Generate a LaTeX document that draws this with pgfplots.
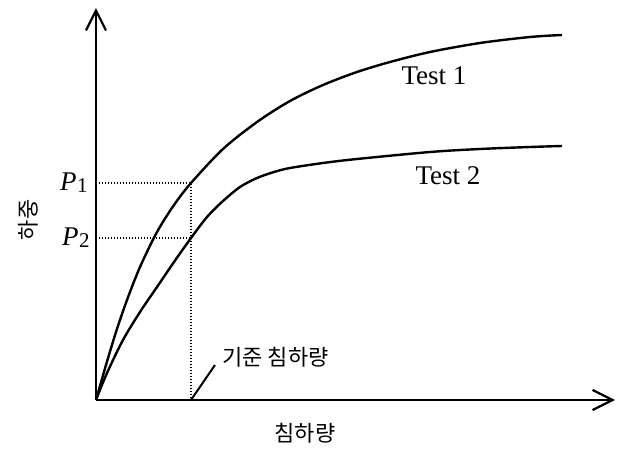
\documentclass[border=0pt]{standalone}
\usepackage{pgfplots}
\pgfplotsset{compat=1.18}
\usepackage{fontspec}
\usetikzlibrary{arrows.meta}
\setmainfont{Liberation Serif}
\newfontfamily\kr{Noto Sans CJK KR}

\newcommand{\Psub}[1]{\textit{P}\kern0.3pt\raisebox{-1pt}{\fontsize{10.5}{12}\selectfont #1}}

\begin{document}
\begin{tikzpicture}
\path[use as bounding box] (0,0) rectangle (310.5pt,225pt);
\begin{axis}[
  at={(48pt,25pt)}, anchor=south west,
  scale only axis, width=259.5pt, height=196pt,
  xmin=0, xmax=519, ymin=0, ymax=392,
  hide axis, clip=false,
]
% axes with open arrow heads
\addplot[line width=1.2pt,-{Straight Barb[length=10pt,width=10pt,line width=1.1pt]}] coordinates {(0,0) (519,0)};
\addplot[line width=1.2pt,-{Straight Barb[length=10pt,width=10pt,line width=1.1pt]}] coordinates {(0,0) (0,392)};

% Test 1
\addplot[line width=1.2pt,smooth] coordinates {
 (0,0) (10,35) (20,68) (31,100) (44,133) (61,168) (78,195) (95,217)
 (127,251) (161,278) (194,299) (227,315) (261,328) (294,338) (334,348)
 (384,357) (434,363) (466,365)};
% Test 2
\addplot[line width=1.2pt,smooth] coordinates {
 (0,0) (11,27) (27,60) (44,88) (61,113) (78,138) (95,162) (111,183)
 (127,199) (144,213) (161,222) (178,228) (194,232) (227,237) (261,241)
 (334,248) (384,251) (434,253) (466,254)};

% reference settlement guides
\addplot[line width=0.7pt,dash pattern=on 0.7pt off 0.8pt] coordinates {(0,217) (95,217) (95,0)};
\addplot[line width=0.7pt,dash pattern=on 0.7pt off 0.8pt] coordinates {(0,162) (95,162)};
\addplot[line width=1pt] coordinates {(95,0) (119,35)};

\node at (axis cs:338,324) {\fontsize{13.5}{15}\selectfont Test 1};
\node at (axis cs:352,224) {\fontsize{13.5}{15}\selectfont Test 2};
\node[anchor=east,inner sep=0pt] at (axis cs:-8,217) {\fontsize{13.5}{15}\selectfont\Psub{1}};
\node[anchor=east,inner sep=0pt] at (axis cs:-6,162) {\fontsize{13.5}{15}\selectfont\Psub{2}};
\node[anchor=west,inner sep=0pt] at (axis cs:126,43) {\kr\fontsize{11}{13}\selectfont 기준 침하량};
\node at (axis cs:209,-33) {\kr\fontsize{11}{13}\selectfont 침하량};
\node[rotate=90] at (axis cs:-68,180) {\kr\fontsize{11}{13}\selectfont 하중};
\end{axis}
\end{tikzpicture}
\end{document}
